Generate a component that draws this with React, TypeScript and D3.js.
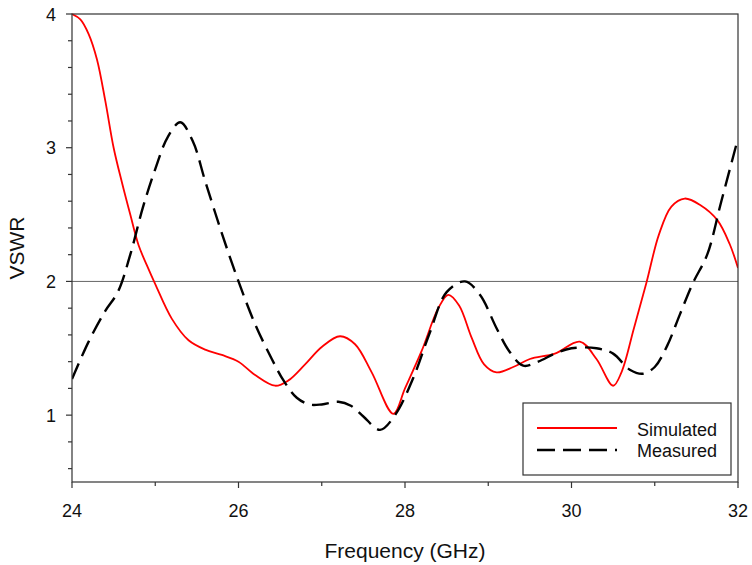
import React from "react";
import * as d3 from "d3";

const simFreq = [24.0,24.1,24.2,24.3,24.4,24.5,24.6,24.7,24.8,24.9,25.0,25.2,25.4,25.6,25.8,26.0,26.2,26.44,26.6,26.8,27.0,27.22,27.4,27.6,27.86,28.0,28.2,28.4,28.52,28.65,28.8,28.95,29.1,29.3,29.5,29.8,30.1,30.3,30.5,30.6,30.75,30.9,31.05,31.2,31.36,31.55,31.75,31.9,32.0];
const simVswr = [4.0,3.96,3.85,3.66,3.35,3.0,2.74,2.5,2.27,2.12,1.98,1.72,1.56,1.49,1.45,1.40,1.30,1.22,1.26,1.38,1.51,1.59,1.53,1.32,1.01,1.2,1.48,1.80,1.90,1.82,1.58,1.38,1.32,1.36,1.42,1.46,1.55,1.42,1.22,1.32,1.65,1.99,2.35,2.56,2.62,2.57,2.46,2.28,2.10];
const measFreq = [24.0,24.2,24.4,24.55,24.7,24.85,25.0,25.15,25.3,25.45,25.6,25.8,26.0,26.2,26.4,26.55,26.7,26.85,27.0,27.2,27.35,27.5,27.7,27.88,28.1,28.3,28.5,28.72,28.9,29.1,29.25,29.42,29.6,29.8,30.0,30.3,30.5,30.7,30.86,31.0,31.15,31.3,31.46,31.63,31.8,32.0];
const measVswr = [1.27,1.55,1.78,1.92,2.2,2.55,2.84,3.08,3.19,3.05,2.75,2.36,2.0,1.68,1.42,1.25,1.13,1.08,1.08,1.10,1.07,0.99,0.89,1.0,1.28,1.62,1.92,2.0,1.9,1.65,1.48,1.37,1.40,1.46,1.50,1.50,1.46,1.34,1.31,1.36,1.52,1.75,1.99,2.2,2.6,3.07];
const xTicks = [24, 26, 28, 30, 32];
const xMinor = [25, 27, 29, 31];
const yTicks = [1, 2, 3, 4];
const yMinor = [0.6, 0.8, 1.2, 1.4, 1.6, 1.8, 2.2, 2.4, 2.6, 2.8, 3.2, 3.4, 3.6, 3.8];
const legendLabels = ["Simulated", "Measured"];
const refLine = 2;

const W = 752, H = 565;
const L = 72, R = 738, T = 14, B = 482;
const font = "Arial, 'Liberation Sans', sans-serif";

export default function App() {
  const x = d3.scaleLinear().domain([24, 32]).range([L, R]);
  const y = d3.scaleLinear().domain([0.5, 4]).range([B, T]);
  const line = d3.line<[number, number]>().x(d => x(d[0])).y(d => y(d[1])).curve(d3.curveCatmullRom.alpha(0.5));
  const sim = simFreq.map((f, i) => [f, simVswr[i]] as [number, number]);
  const meas = measFreq.map((f, i) => [f, measVswr[i]] as [number, number]);
  const axisColor = "#333";
  return (
    <svg width={W} height={H} style={{ position: "absolute", left: 0, top: 0 }} fontFamily={font}>
      <defs>
        <clipPath id="plot"><rect x={L} y={T - 1} width={R - L} height={B - T + 1} /></clipPath>
      </defs>
      <rect x={0} y={0} width={W} height={H} fill="#fff" />
      <line x1={L} x2={R} y1={y(refLine)} y2={y(refLine)} stroke="#666" strokeWidth={1} />
      <g clipPath="url(#plot)">
        <path d={line(sim) || ""} fill="none" stroke="#ff0000" strokeWidth={1.8} />
        <path d={line(meas) || ""} fill="none" stroke="#000" strokeWidth={2.4} strokeDasharray="17 8" />
      </g>
      <rect x={L} y={T} width={R - L} height={B - T} fill="none" stroke={axisColor} strokeWidth={1.2} />
      {xTicks.map(t => (
        <g key={"xt" + t}>
          <line x1={x(t)} x2={x(t)} y1={B} y2={B + 6} stroke={axisColor} strokeWidth={1.2} />
          <text x={x(t)} y={517} textAnchor="middle" fontSize={18} fill="#111">{t}</text>
        </g>
      ))}
      {xMinor.map(t => (
        <line key={"xm" + t} x1={x(t)} x2={x(t)} y1={B} y2={B + 4} stroke={axisColor} strokeWidth={1.2} />
      ))}
      {yTicks.map(t => (
        <g key={"yt" + t}>
          <line x1={L - 6} x2={L} y1={y(t)} y2={y(t)} stroke={axisColor} strokeWidth={1.2} />
          <text x={56} y={y(t) + 6.5} textAnchor="end" fontSize={18} fill="#111">{t}</text>
        </g>
      ))}
      {yMinor.map(t => (
        <line key={"ym" + t} x1={L - 4} x2={L} y1={y(t)} y2={y(t)} stroke={axisColor} strokeWidth={1.2} />
      ))}
      <text x={405} y={558} textAnchor="middle" fontSize={21} fill="#111">Frequency (GHz)</text>
      <text transform={`translate(24,248) rotate(-90)`} textAnchor="middle" fontSize={21} fill="#111">VSWR</text>
      <g>
        <rect x={523} y={403} width={208} height={72} fill="#fff" stroke={axisColor} strokeWidth={1.2} />
        <line x1={537} x2={617} y1={428} y2={428} stroke="#ff0000" strokeWidth={1.8} />
        <line x1={537} x2={617} y1={450} y2={450} stroke="#000" strokeWidth={2.4} strokeDasharray="18 8" />
        <text x={717} y={436} textAnchor="end" fontSize={18} fill="#111">{legendLabels[0]}</text>
        <text x={717} y={457} textAnchor="end" fontSize={18} fill="#111">{legendLabels[1]}</text>
      </g>
    </svg>
  );
}
